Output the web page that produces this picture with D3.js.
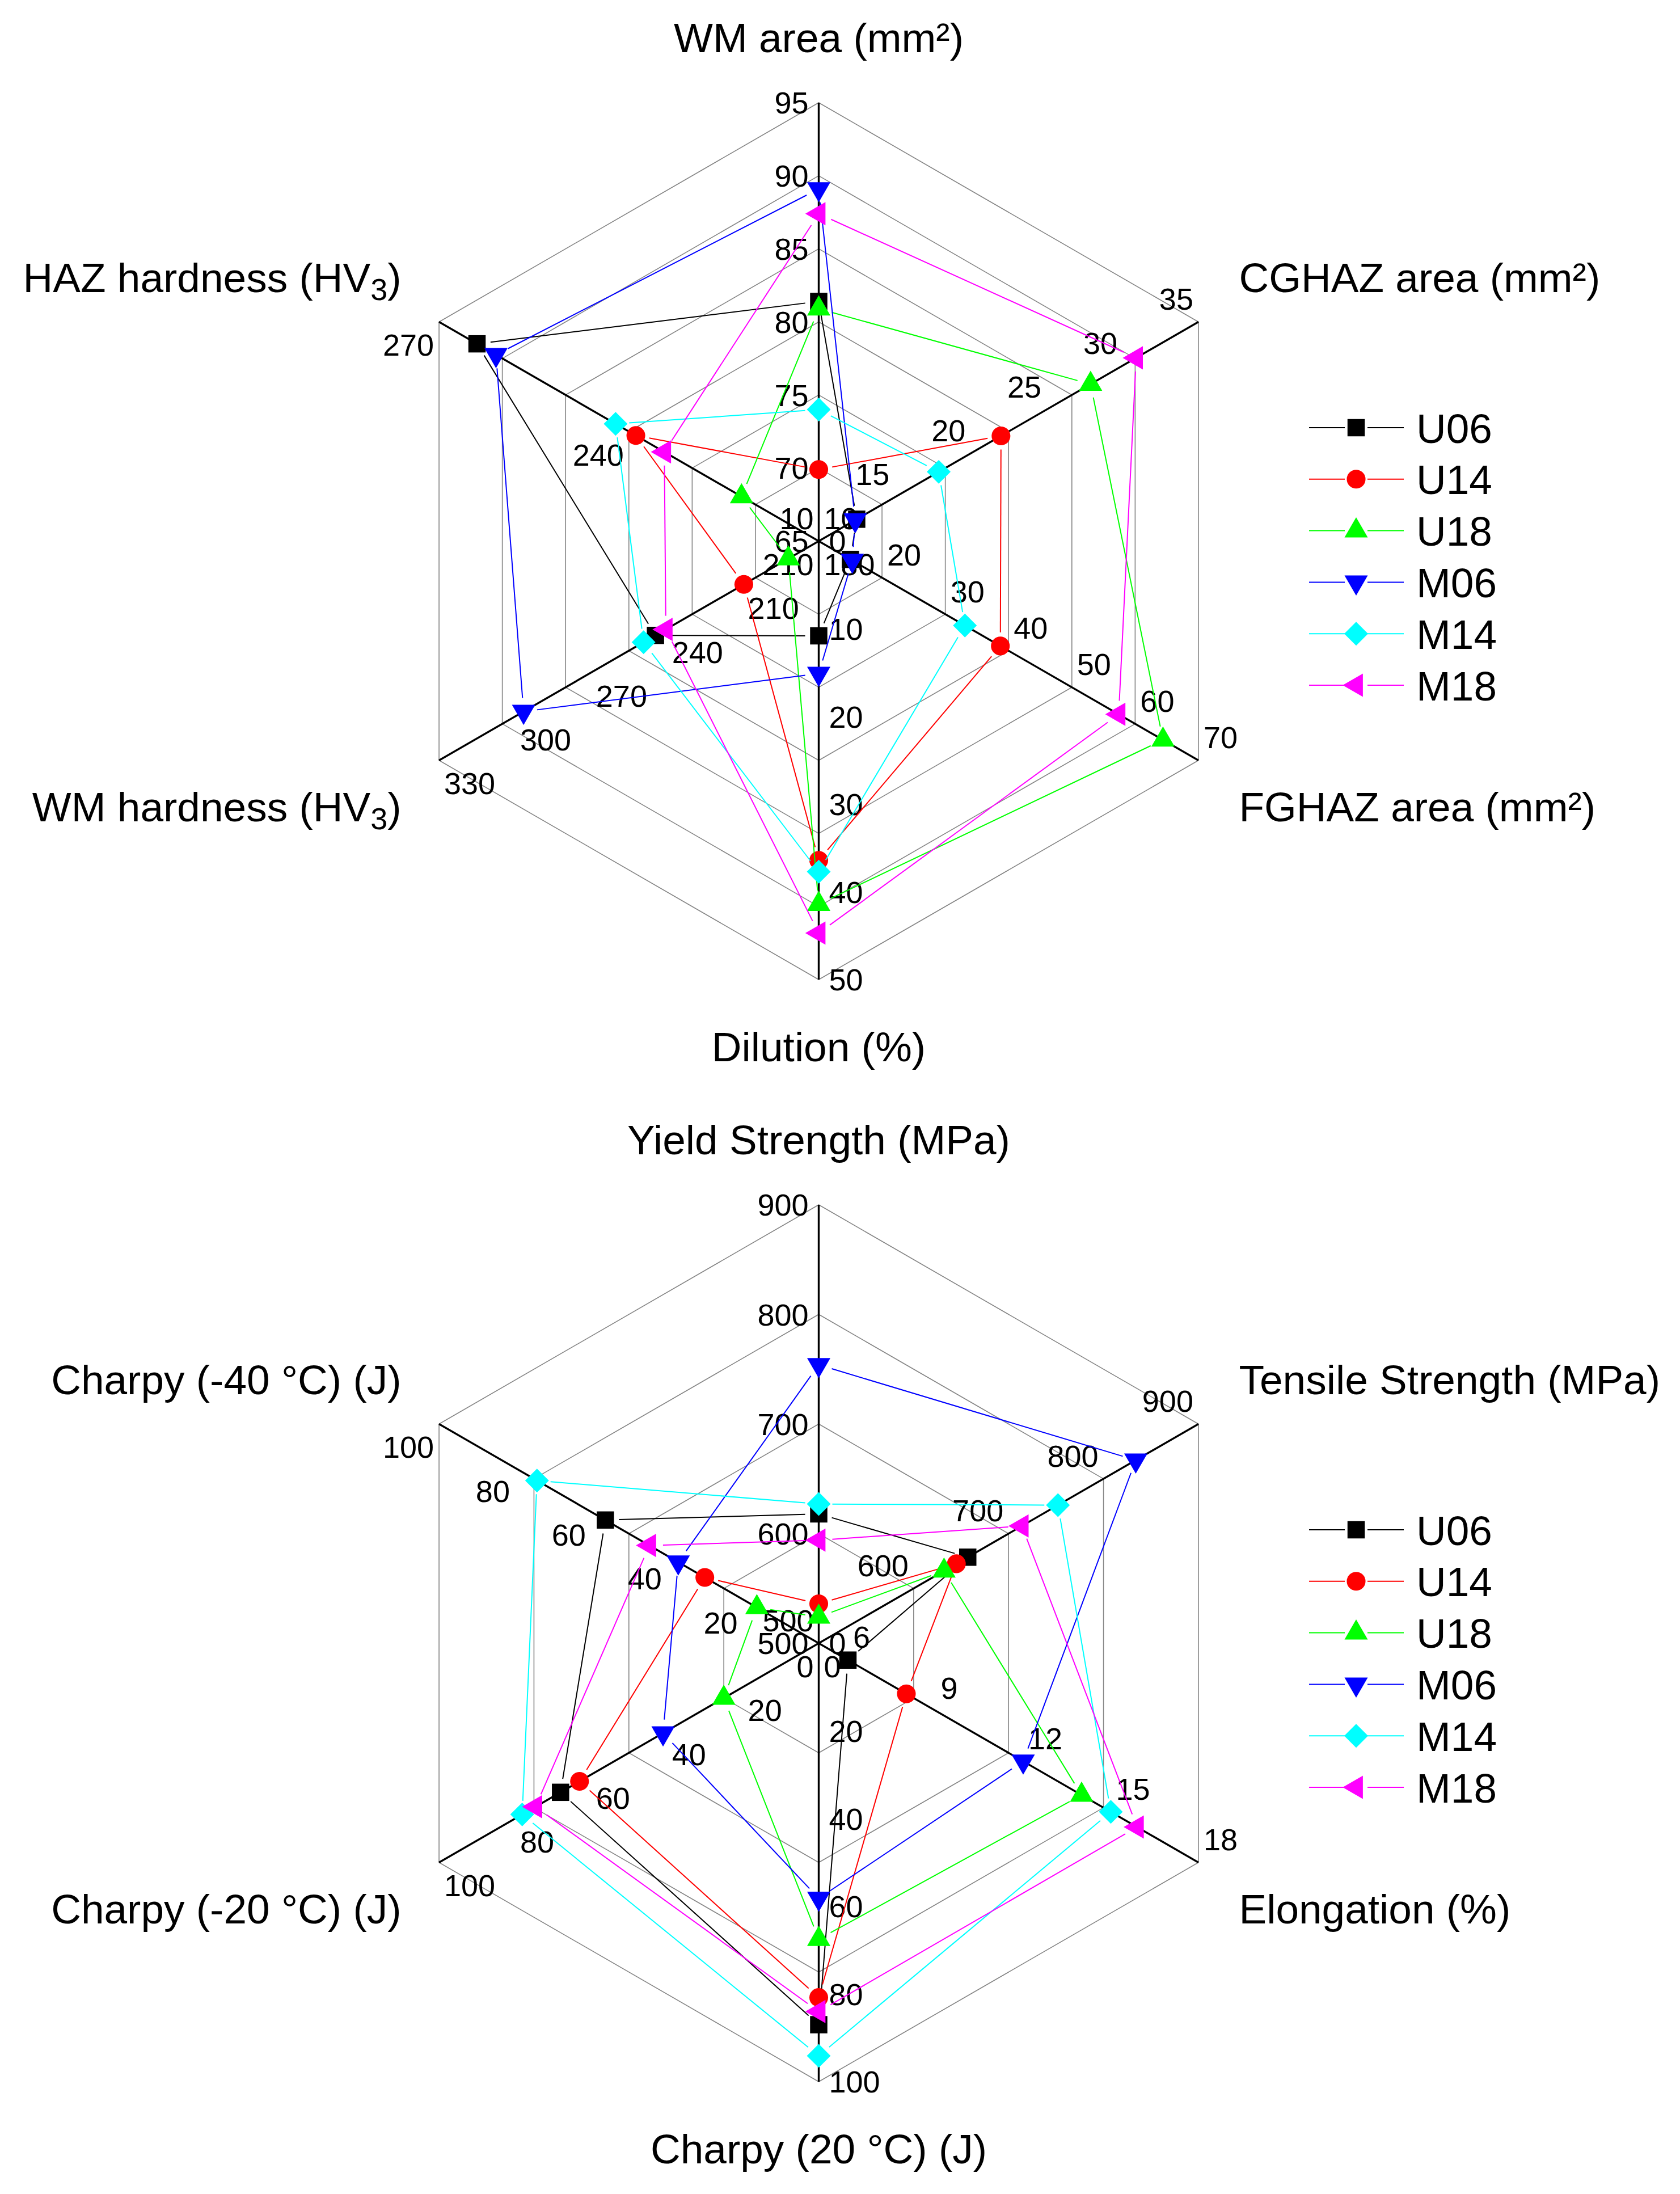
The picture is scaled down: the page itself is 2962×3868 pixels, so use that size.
<!DOCTYPE html>
<html>
<head>
<meta charset="utf-8">
<script src="https://cdn.jsdelivr.net/npm/d3@7"></script>
<style>
  html, body { margin: 0; padding: 0; background: #ffffff; }
  svg text { font-family: "Liberation Sans", Arial, Helvetica, sans-serif; fill: #000; }
</style>
</head>
<body>
<svg id="chart" width="2962" height="3868" xmlns="http://www.w3.org/2000/svg"></svg>
<script>
// ---------------- DATA ----------------
const seriesNames   = ["U06", "U14", "U18", "M06", "M14", "M18"];
const seriesColors  = ["#000000", "#ff0000", "#00ff00", "#0000ff", "#00ffff", "#ff00ff"];
const seriesSymbols = ["square", "circle", "triangleUp", "triangleDown", "diamond", "triangleLeft"];

// Chart 1 (weld geometry / hardness)
const axes1  = ["WM area (mm²)", "CGHAZ area (mm²)", "FGHAZ area (mm²)", "Dilution (%)", "WM hardness (HV|3|)", "HAZ hardness (HV|3|)"];
const min1   = [65, 10, 10, 0, 180, 210];
const max1   = [95, 35, 70, 50, 330, 270];
const ticks1 = [
  [65, 70, 75, 80, 85, 90, 95],
  [10, 15, 20, 25, 30, 35],
  [10, 20, 30, 40, 50, 60, 70],
  [0, 10, 20, 30, 40, 50],
  [180, 210, 240, 270, 300, 330],
  [210, 240, 270]
];
const gridLevels1 = 6;
const U06_1 = [81.4, 12.5, 15.0, 10.8, 244.5, 264.0];
const U14_1 = [69.9, 22.0, 38.7, 36.4, 209.6, 238.9];
const U18_1 = [80.9, 27.9, 64.4, 41.4, 192.0, 222.2];
const M06_1 = [89.1, 12.4, 15.3, 15.1, 296.6, 261.0];
const M14_1 = [74.0, 17.9, 33.1, 37.7, 249.2, 242.1];
const M18_1 = [87.4, 30.9, 57.4, 44.7, 240.4, 234.4];

// Chart 2 (mechanical properties)
const axes2  = ["Yield Strength (MPa)", "Tensile Strength (MPa)", "Elongation (%)", "Charpy (20 °C) (J)", "Charpy (-20 °C) (J)", "Charpy (-40 °C) (J)"];
const min2   = [500, 500, 5, 0, 0, 0];
const max2   = [900, 900, 18, 100, 100, 100];
const ticks2 = [
  [500, 600, 700, 800, 900],
  [500, 600, 700, 800, 900],
  [6, 9, 12, 15, 18],
  [0, 20, 40, 60, 80, 100],
  [0, 20, 40, 60, 80, 100],
  [0, 20, 40, 60, 80, 100]
];
const gridLevels2 = 4;
const U06_2 = [618, 657, 6.0, 87.0, 68.0, 56.2];
const U14_2 = [536, 645, 8.0, 80.8, 63.0, 30.0];
const U18_2 = [524, 632, 14.0, 67.5, 25.0, 16.3];
const M06_2 = [754, 834, 12.0, 58.2, 41.0, 37.0];
const M14_2 = [627, 752, 15.0, 94.1, 78.1, 74.2];
const M18_2 = [594, 714, 15.9, 84.0, 74.6, 44.6];

// ---------------- DRAWING ----------------
const svg = d3.select("#chart");
const RADIUS = 773;
const FS_TITLE = 73;
const FS_TICK = 54;

const symbolTypes = {
  square:       { type: d3.symbolSquare,   size: 930, rot: 0 },
  circle:       { type: d3.symbolCircle,   size: 860, rot: 0 },
  triangleUp:   { type: d3.symbolTriangle, size: 730, rot: 0 },
  triangleDown: { type: d3.symbolTriangle, size: 730, rot: 180 },
  diamond:      { type: d3.symbolSquare,   size: 880, rot: 45 },
  triangleLeft: { type: d3.symbolTriangle, size: 730, rot: -90 }
};

function addTitle(g, label, x, y, anchor) {
  const t = g.append("text")
    .attr("x", x).attr("y", y)
    .attr("text-anchor", anchor)
    .style("font-size", FS_TITLE + "px");
  const parts = label.split("|");
  if (parts.length === 1) {
    t.text(label);
  } else {
    t.append("tspan").text(parts[0]);
    t.append("tspan").attr("dy", 14).style("font-size", (FS_TITLE * 0.74) + "px").text(parts[1]);
    t.append("tspan").attr("dy", -14).text(parts[2]);
  }
}

function drawRadar(cfg) {
  const { cx, cy, axes, mins, maxs, ticks, levels, series } = cfg;
  const g = svg.append("g");
  const n = axes.length;
  const ang = d3.range(n).map(k => (-90 + 360 / n * k) * Math.PI / 180);
  const dir = ang.map(a => [Math.cos(a), Math.sin(a)]);
  const nrm = dir.map(d => [d[1], -d[0]]);
  const scales = d3.range(n).map(k => d3.scaleLinear().domain([mins[k], maxs[k]]).range([0, RADIUS]));
  const pt = (k, v) => { const r = scales[k](v); return [cx + dir[k][0] * r, cy + dir[k][1] * r]; };

  // grid hexagons
  const lev = d3.scaleLinear().domain([0, levels]).range([0, RADIUS]);
  d3.range(1, levels + 1).forEach(l => {
    const r = lev(l);
    const pts = dir.map(d => [cx + d[0] * r, cy + d[1] * r]);
    g.append("path")
      .attr("d", d3.line()(pts) + "Z")
      .attr("fill", "none")
      .attr("stroke", "#858585")
      .attr("stroke-width", 1.6);
  });

  // axes
  dir.forEach(d => {
    g.append("line")
      .attr("x1", cx).attr("y1", cy)
      .attr("x2", cx + d[0] * RADIUS).attr("y2", cy + d[1] * RADIUS)
      .attr("stroke", "#000").attr("stroke-width", 3.4);
  });

  // tick labels
  const gap = 18, hh = 25;
  ticks.forEach((arr, k) => {
    const nv = nrm[k];
    const sx = Math.abs(nv[0]) > 0.1 ? Math.sign(nv[0]) : 0;
    const sy = Math.abs(nv[1]) > 0.1 ? Math.sign(nv[1]) : 0;
    arr.forEach(v => {
      const p = pt(k, v);
      const t = g.append("text")
        .attr("text-anchor", "middle")
        .style("font-size", FS_TICK + "px")
        .text(d3.format("")(v));
      const hw = t.node().getComputedTextLength() / 2;
      const x = p[0] + gap * nv[0] + sx * hw;
      const yc = p[1] + gap * nv[1] + sy * hh;
      t.attr("x", x).attr("y", yc + 0.358 * FS_TICK);
    });
  });

  // axis titles
  const tb = 26;
  addTitle(g, axes[0], cx, cy - 888 + tb, "middle");
  addTitle(g, axes[1], cx + 741, cy - 465 + tb, "start");
  addTitle(g, axes[2], cx + 741, cy + 468 + tb, "start");
  addTitle(g, axes[3], cx, cy + 891 + tb, "middle");
  addTitle(g, axes[4], cx - 736, cy + 468 + tb, "end");
  addTitle(g, axes[5], cx - 736, cy - 465 + tb, "end");

  // series
  const segGap = 24;
  series.forEach((vals, i) => {
    const pts = vals.map((v, k) => pt(k, v));
    const sg = g.append("g");
    pts.forEach((p, k) => {
      const q = pts[(k + 1) % n];
      const dx = q[0] - p[0], dy = q[1] - p[1];
      const L = Math.hypot(dx, dy);
      if (L > 2 * segGap + 2) {
        const ux = dx / L, uy = dy / L;
        sg.append("line")
          .attr("x1", p[0] + ux * segGap).attr("y1", p[1] + uy * segGap)
          .attr("x2", q[0] - ux * segGap).attr("y2", q[1] - uy * segGap)
          .attr("stroke", seriesColors[i]).attr("stroke-width", 2);
      }
    });
    const st = symbolTypes[seriesSymbols[i]];
    const sym = d3.symbol().type(st.type).size(st.size);
    pts.forEach(p => {
      sg.append("path")
        .attr("d", sym())
        .attr("transform", `translate(${p[0]},${p[1]}) rotate(${st.rot})`)
        .attr("fill", seriesColors[i]);
    });
  });

  // legend
  const lg = g.append("g");
  const rowY = d3.scaleLinear().domain([0, 1]).range([cy - 200, cy - 200 + 90.8]);
  seriesNames.forEach((name, i) => {
    const y = rowY(i);
    lg.append("line").attr("x1", 2308).attr("x2", 2371).attr("y1", y).attr("y2", y)
      .attr("stroke", seriesColors[i]).attr("stroke-width", 2);
    lg.append("line").attr("x1", 2411).attr("x2", 2475).attr("y1", y).attr("y2", y)
      .attr("stroke", seriesColors[i]).attr("stroke-width", 2);
    const st = symbolTypes[seriesSymbols[i]];
    lg.append("path")
      .attr("d", d3.symbol().type(st.type).size(st.size)())
      .attr("transform", `translate(2391,${y}) rotate(${st.rot})`)
      .attr("fill", seriesColors[i]);
    lg.append("text").attr("x", 2497).attr("y", y + 26.5)
      .style("font-size", FS_TITLE + "px").text(name);
  });
}

drawRadar({
  cx: 1443.5, cy: 954,
  axes: axes1, mins: min1, maxs: max1, ticks: ticks1, levels: gridLevels1,
  series: [U06_1, U14_1, U18_1, M06_1, M14_1, M18_1]
});
drawRadar({
  cx: 1443.5, cy: 2897,
  axes: axes2, mins: min2, maxs: max2, ticks: ticks2, levels: gridLevels2,
  series: [U06_2, U14_2, U18_2, M06_2, M14_2, M18_2]
});
</script>
</body>
</html>
